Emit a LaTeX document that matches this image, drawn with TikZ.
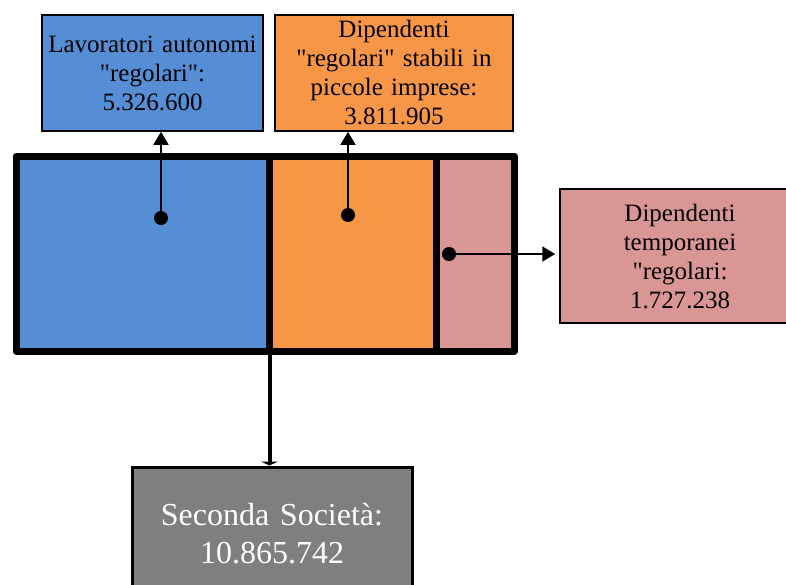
\documentclass[tikz,border=0pt]{standalone}
\usepackage{fontspec}
\setmainfont{Liberation Serif}[Ligatures=TeXOff]
\usetikzlibrary{arrows.meta,positioning}
\definecolor{SegBlue}{HTML}{558ED5}
\definecolor{SegOrange}{HTML}{F79646}
\definecolor{SegPink}{HTML}{D99694}
\definecolor{SegGrey}{HTML}{7F7F7F}

\begin{document}
\begin{tikzpicture}[x=1pt,y=-1pt,font=\fontsize{25}{29}\selectfont,seg/.style={draw=black, line width=7pt, minimum height=195pt, inner sep=0pt, outer sep=0pt, line join=round},spot/.style={circle, fill=black, inner sep=0pt, minimum size=14pt},tag/.style={draw=black, line width=1.5pt, align=center, inner sep=3pt},link/.style={line width=1.6pt, -{Triangle[length=13pt,width=15pt]}}]
\path[use as bounding box] (0,0) rectangle (786,584);
% the three segments
\node[seg, fill=SegBlue, minimum width=253.5pt, anchor=north west] (autonomi) at (16,156) {};
\node[seg, fill=SegOrange, minimum width=167pt, right=0pt of autonomi] (stabili) {};
\node[seg, fill=SegPink, minimum width=78pt, right=0pt of stabili] (temporanei) {};
\node[spot] (dA) at (161,218) {}; \node[spot] (dB) at (348,215) {}; \node[spot] (dC) at (449,254) {};
% labels
\node[tag, fill=SegBlue, minimum width=221pt, minimum height=116pt, text width=215pt] (lavA) at (152.5,73) {Lavoratori autonomi\\"regolari":\\5.326.600};
\node[tag, fill=SegOrange, minimum width=238pt, minimum height=116pt, text width=232pt] (lavB) at (394,73) {Dipendenti\\"regolari" stabili in\\piccole imprese:\\3.811.905};
\node[tag, fill=SegPink, minimum width=240pt, minimum height=134pt, text width=234pt] (lavC) at (680,256) {Dipendenti\\temporanei\\"regolari:\\1.727.238};
\node[tag, fill=SegGrey, text=white, line width=3pt, minimum width=280pt, minimum height=134pt, text width=274pt, font=\fontsize{32}{38}\selectfont] (societa) at (272,534) {Seconda Società:\\10.865.742};
\draw[link] (dA) -- (dA |- lavA.south);
\draw[link] (dB) -- (dB |- lavB.south);
\draw[link, shorten >=4pt] (dC) -- (dC -| lavC.west);
\draw[line width=4pt, -{Triangle[length=4pt,width=17pt]}] (autonomi.south east) -- (autonomi.south east |- societa.north);
\end{tikzpicture}
\end{document}
